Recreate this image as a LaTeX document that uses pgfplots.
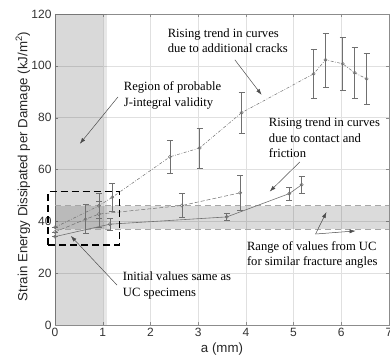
\documentclass[border=0pt]{standalone}
\usepackage{fontspec}
\setmainfont{Liberation Serif}
\newfontfamily\arial{Liberation Sans}
\usepackage{pgfplots}
\pgfplotsset{compat=1.18}
\usetikzlibrary{calc,arrows.meta}
\definecolor{sergray}{HTML}{707070}
\begin{document}
\begin{tikzpicture}
\begin{axis}[name=ax, scale only axis, width=334pt, height=311pt,
  xmin=0, xmax=7, ymin=0, ymax=120,
  xtick={0,1,...,7}, ytick={0,20,...,120},
  grid=major, major grid style={black!12, line width=0.4pt},
  axis line style={black!45},
  tick style={black!45}, tick align=inside, major tick length=3pt,
  /pgf/number format/assume math mode=true,
  ticklabel style={font=\arial\fontsize{12}{12}\selectfont, text=black!80},
  xlabel={a (mm)},
  ylabel={Strain Energy Dissipated per Damage (kJ/m\textsuperscript{2})},
  label style={font=\arial\fontsize{13.3}{14}\selectfont, text=black!85},
  xlabel style={at={(axis description cs:0.5,-0.078)}, anchor=center},
  ylabel style={at={(axis description cs:-0.096,0.51)}, anchor=center},
  clip=false,
  error bars/y dir=both, error bars/y explicit,
  error bars/error bar style={sergray, line width=0.6pt, solid},
  error bars/error mark options={rotate=90, mark size=3pt, sergray, line width=0.6pt, solid},
]
% shaded regions
\addplot[draw=none, fill=black, fill opacity=0.15, forget plot, error bars/y dir=none] coordinates {(0,0) (1,0) (1,120) (0,120)} -- cycle;
\addplot[draw=none, fill=black, fill opacity=0.09, forget plot, error bars/y dir=none] coordinates {(1,0) (1.1,0) (1.1,120) (1,120)} -- cycle;
\addplot[draw=none, fill=black, fill opacity=0.14, forget plot, error bars/y dir=none] coordinates {(0,37) (7,37) (7,46) (0,46)} -- cycle;
\addplot[black!35, line width=1.2pt, dash pattern=on 6pt off 4pt, forget plot, error bars/y dir=none] coordinates {(0,37) (7,37)};
\addplot[black!35, line width=1.2pt, dash pattern=on 6pt off 4pt, forget plot, error bars/y dir=none] coordinates {(0,46) (7,46)};

% dash-dot series (additional cracks)
\addplot[sergray, line width=0.5pt, dash pattern=on 3pt off 1.5pt on 0.8pt off 1.5pt, mark=o, mark size=1.6pt, mark options={solid}]
  coordinates {
  (0,37.7) +- (0,0)
  (0.92,46.0) +- (0,5.0)
  (1.20,49.3) +- (0,5.3)
  (2.41,64.9) +- (0,6.2)
  (3.03,68.3) +- (0,7.7)
  (3.91,81.9) +- (0,8.0)
  (5.42,96.9) +- (0,9.6)
  (5.67,102.3) +- (0,10.4)
  (6.03,100.8) +- (0,10.3)
  (6.28,97.3) +- (0,9.9)
  (6.53,95.0) +- (0,9.7)
  };
% dashed series
\addplot[sergray, line width=0.5pt, dash pattern=on 4pt off 2pt, mark=o, mark size=1.6pt, mark options={solid}]
  coordinates {
  (0,35.9) +- (0,0)
  (0.64,40.8) +- (0,5.6)
  (0.92,42.8) +- (0,5.0)
  (2.66,46.1) +- (0,4.6)
  (3.88,51.0) +- (0,6.9)
  };
% solid series
\addplot[sergray, line width=0.6pt, mark=o, mark size=1.6pt]
  coordinates {
  (0,34.1) +- (0,0)
  (1.15,38.9) +- (0,2.4)
  (3.60,41.7) +- (0,1.4)
  (4.91,50.7) +- (0,2.6)
  (5.17,54.1) +- (0,3.2)
  };

% dashed black box
\draw[black, line width=1.8pt, dash pattern=on 7pt off 4pt] (axis cs:-0.15,31) rectangle (axis cs:1.35,51.5);

% annotations
\begin{scope}[every node/.style={font=\fontsize{12.6}{15.3}\selectfont, align=left, anchor=west, inner sep=0pt}]
\node at (axis cs:2.36,109.6) {Rising trend in curves\\due to additional cracks};
\node at (axis cs:1.44,88.6) {Region of probable\\J-integral validity};
\node at (axis cs:4.48,72.2) {Rising trend in curves\\due to contact and\\friction};
\node at (axis cs:4.02,27.0) {Range of values from UC\\for similar fracture angles};
\node at (axis cs:1.42,15.3) {Initial values same as\\UC specimens};
\end{scope}
\begin{scope}[black!70, line width=0.5pt, -{Latex[length=6pt,width=4pt]}]
\draw (axis cs:3.77,102.3) -- (axis cs:4.33,88.8);
\draw (axis cs:1.32,88.0) -- (axis cs:0.52,69.9);
\draw (axis cs:5.13,62.9) -- (axis cs:4.50,51.5);
\draw (axis cs:5.46,35.1) -- (axis cs:5.69,43.6);
\draw (axis cs:5.46,35.1) -- (axis cs:6.30,36.3);
\draw (axis cs:1.30,15.4) -- (axis cs:0.33,34.4);
\end{scope}
\end{axis}
\pgfresetboundingbox
\path[use as bounding box] ($(ax.south west)+(-55pt,-33pt)$) rectangle ($(ax.north east)+(1pt,14pt)$);
\end{tikzpicture}
\end{document}
